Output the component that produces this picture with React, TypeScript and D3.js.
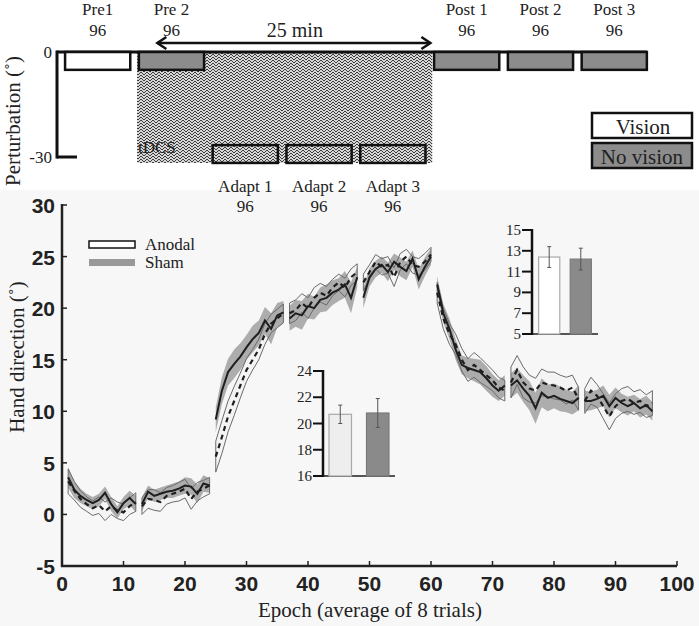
import React from 'react';
import * as d3 from 'd3';

// ---------- Data ----------
const blockNames = ['Pre1', 'Pre 2', 'Adapt 1', 'Adapt 2', 'Adapt 3', 'Post 1', 'Post 2', 'Post 3'];
const blockTrials = [96, 96, 96, 96, 96, 96, 96, 96];
const blockVision = [true, false, false, false, false, false, false, false];
const blockPerturbation = [0, 0, -30, -30, -30, 0, 0, 0];
const epochsPerBlock = 12;
const tdcsEpochs = [12.2, 60.2];
const arrowEpochs = [15.5, 59.9];
const durationLabel = '25 min';

const shamMean = [
  3.6, 2.4, 1.8, 1.4, 1.1, 1.4, 2.1, 1.0, 0.2, 1.1, 1.6, 1.0,
  1.0, 2.2, 1.8, 2.0, 2.2, 2.3, 2.5, 2.8, 2.7, 2.0, 3.0, 2.8,
  9.2, 12.0, 13.8, 14.6, 15.3, 16.2, 17.0, 17.6, 18.8, 18.0, 19.3, 19.6,
  19.0, 19.5, 19.3, 20.2, 20.0, 20.8, 21.0, 21.5, 21.8, 22.3, 21.0, 23.0,
  21.0, 23.0, 23.8, 24.2, 23.5, 24.5, 24.0, 23.6, 24.8, 22.8, 24.0, 25.0,
  22.3, 19.5, 18.0, 16.0, 14.5, 14.2, 14.0, 13.8, 13.2, 12.5, 12.0, 12.5,
  12.5, 13.0, 12.2, 11.5, 10.3, 11.8, 11.3, 11.5, 11.2, 11.0, 10.8, 11.3,
  11.0, 11.0, 11.2, 11.5, 10.5, 11.3, 10.8, 10.5, 10.8, 10.3, 10.6, 10.0,
];
const shamSE = [
  1.0, 0.8, 0.7, 0.6, 0.6, 0.6, 0.6, 0.7, 0.6, 0.6, 0.7, 0.8,
  0.7, 0.6, 0.6, 0.6, 0.6, 0.7, 0.7, 0.8, 0.8, 0.9, 0.8, 0.7,
  1.2, 1.3, 1.3, 1.4, 1.3, 1.2, 1.3, 1.2, 1.3, 1.5, 1.2, 1.1,
  1.2, 1.3, 1.4, 1.2, 1.1, 1.2, 1.3, 1.2, 1.1, 1.3, 1.5, 1.0,
  1.0, 0.9, 0.8, 0.8, 0.9, 0.8, 0.9, 0.9, 0.8, 1.0, 0.9, 0.8,
  0.8, 0.9, 1.0, 1.0, 0.9, 1.0, 1.1, 1.2, 1.2, 1.1, 1.0, 1.0,
  1.2, 1.2, 1.3, 1.4, 1.5, 1.4, 1.3, 1.2, 1.2, 1.1, 1.1, 1.2,
  1.0, 0.9, 0.9, 1.0, 1.1, 1.0, 0.9, 0.9, 0.8, 0.9, 0.9, 0.9,
];
const anodalMean = [
  3.2, 2.3, 1.5, 1.0, 0.6, 0.9, 0.3, 0.8, 0.4, 0.2, 0.8, 1.2,
  0.8, 1.5, 1.4, 1.2, 1.8, 2.0, 2.2, 2.5, 1.5, 2.2, 2.5, 2.8,
  5.6, 7.5, 9.5, 11.0, 12.5, 14.0, 15.0, 16.0, 17.5, 18.5, 19.0, 19.5,
  19.5, 19.8, 20.5, 20.0, 21.0, 21.5, 21.2, 22.0, 22.5, 22.0, 23.0, 23.5,
  22.5, 23.5, 24.5, 24.0, 24.2, 23.0, 24.5, 25.0, 24.2, 24.0, 24.5, 25.2,
  21.5, 19.0, 17.5, 16.5, 15.0, 14.0, 14.5, 14.0, 13.5, 13.0, 12.3, 12.0,
  12.8, 14.0, 12.8, 12.2, 12.0, 12.8, 12.6, 12.5, 12.3, 12.0, 12.3, 11.2,
  11.0, 12.0, 11.5, 10.5, 9.5, 10.5, 11.0, 11.2, 10.8, 11.0, 10.5, 10.8,
];
const anodalSE = [
  1.2, 0.9, 0.8, 0.7, 0.7, 0.8, 0.9, 0.8, 0.8, 0.8, 0.8, 0.9,
  0.8, 0.9, 1.0, 0.9, 0.8, 0.8, 0.9, 0.9, 1.0, 0.9, 0.8, 0.8,
  1.5, 1.6, 1.5, 1.4, 1.2, 1.1, 1.0, 1.0, 1.0, 0.9, 0.9, 0.9,
  1.0, 1.0, 0.9, 1.0, 1.0, 0.9, 0.9, 0.8, 0.8, 0.9, 0.8, 0.8,
  0.8, 0.7, 0.7, 0.8, 0.8, 0.9, 0.8, 0.7, 0.8, 0.8, 0.8, 0.7,
  1.0, 1.0, 1.0, 1.0, 1.1, 1.1, 1.2, 1.2, 1.1, 1.0, 1.0, 1.0,
  1.5, 1.4, 1.5, 1.3, 1.2, 1.3, 1.2, 1.3, 1.2, 1.3, 1.2, 1.1,
  1.2, 1.3, 1.1, 1.2, 1.3, 1.2, 1.2, 1.2, 1.1, 1.1, 1.1, 1.2,
];

const xTicks = [0, 10, 20, 30, 40, 50, 60, 70, 80, 90, 100];
const yTicks = [-5, 0, 5, 10, 15, 20, 25, 30];
const perturbTicks = [0, -30];

const groups = ['Anodal', 'Sham'];
const adaptBarMean = [20.7, 20.8];
const adaptBarSE = [0.7, 1.1];
const adaptTicks = [16, 18, 20, 22, 24];
const postBarMean = [12.4, 12.2];
const postBarSE = [1.0, 1.05];
const postTicks = [5, 7, 9, 11, 13, 15];

// ---------- Chart ----------
const SERIF = '"Liberation Serif", "Times New Roman", serif';
const SANS = '"Liberation Sans", Arial, sans-serif';

export default function App() {
  const xs = d3.scaleLinear().domain([0, 100]).range([62, 677]);
  const ys = d3.scaleLinear().domain([-5, 30]).range([566, 205]);
  const yp = d3.scaleLinear().domain([-30, 0]).range([157, 52]);

  const blocks = blockNames.map((name, b) => {
    const pts = d3.range(epochsPerBlock).map((k) => {
      const i = b * epochsPerBlock + k;
      return { e: i + 1, sm: shamMean[i], ss: shamSE[i], am: anodalMean[i], as: anodalSE[i] };
    });
    return { name, pts };
  });

  const shamArea = d3.area<any>().x((d) => xs(d.e)).y0((d) => ys(d.sm - d.ss)).y1((d) => ys(d.sm + d.ss));
  const anodalArea = d3.area<any>().x((d) => xs(d.e)).y0((d) => ys(d.am - d.as)).y1((d) => ys(d.am + d.as));
  const shamLine = d3.line<any>().x((d) => xs(d.e)).y((d) => ys(d.sm));
  const anodalLine = d3.line<any>().x((d) => xs(d.e)).y((d) => ys(d.am));

  // insets
  const in1y = d3.scaleLinear().domain([16, 24]).range([476, 371]);
  const in1x = d3.scaleBand<string>().domain(groups).range([323, 395]).paddingInner(0.4).paddingOuter(0.16);
  const in2y = d3.scaleLinear().domain([5, 15]).range([334, 230]);
  const in2x = d3.scaleBand<string>().domain(groups).range([532, 598]).paddingInner(0.33).paddingOuter(0.21);

  const boxX0 = (b: number) => xs(b * epochsPerBlock + 0.5);
  const boxX1 = (b: number) => xs(b * epochsPerBlock + 11.1);
  const boxY = (p: number) => (p === 0 ? [yp(0), yp(-5.1)] : [yp(p + 3.4), yp(p - 1.7)]);

  const inset = (
    y: d3.ScaleLinear<number, number>,
    x: d3.ScaleBand<string>,
    ticks: number[],
    means: number[],
    ses: number[],
    fills: string[],
    strokes: string[],
    axisX: number,
    key: string
  ) => {
    const [y0, y1] = y.range();
    const [xr0, xr1] = x.range();
    return (
      <g key={key}>
        <line x1={xr0} x2={xr1} y1={y0} y2={y0} stroke="#555" strokeWidth={2} />
        {groups.map((g, i) => (
          <g key={g}>
            <rect x={x(g)} y={y(means[i])} width={x.bandwidth()} height={y0 - y(means[i])} fill={fills[i]} stroke={strokes[i]} strokeWidth={1.2} />
            <line x1={x(g)! + x.bandwidth() / 2} x2={x(g)! + x.bandwidth() / 2} y1={y(means[i] - ses[i])} y2={y(means[i] + ses[i])} stroke="#555" strokeWidth={1} />
            <line x1={x(g)! + x.bandwidth() / 2 - 2} x2={x(g)! + x.bandwidth() / 2 + 2} y1={y(means[i] + ses[i])} y2={y(means[i] + ses[i])} stroke="#555" strokeWidth={1} />
            <line x1={x(g)! + x.bandwidth() / 2 - 2} x2={x(g)! + x.bandwidth() / 2 + 2} y1={y(means[i] - ses[i])} y2={y(means[i] - ses[i])} stroke="#555" strokeWidth={1} />
          </g>
        ))}
        <line x1={axisX} x2={axisX} y1={y0 + 1} y2={y1 - 1} stroke="#111" strokeWidth={2.5} />
        {ticks.map((t) => (
          <g key={t}>
            <line x1={axisX - 10} x2={axisX} y1={y(t)} y2={y(t)} stroke="#111" strokeWidth={2} />
            <text x={axisX - 11} y={y(t) + 5} textAnchor="end" fontFamily={SERIF} fontSize={15} fill="#222">{t}</text>
          </g>
        ))}
      </g>
    );
  };

  return (
    <svg width={699} height={626} style={{ position: 'absolute', left: 0, top: 0, background: '#fff' }}>
      <defs>
        <pattern id="tdcs" patternUnits="userSpaceOnUse" width={6} height={6}>
          <rect width={6} height={6} fill="#d6d6d6" />
          <path d="M0,3 L3,0 L6,3 M0,6 L3,3 L6,6" stroke="#3a3a3a" strokeWidth={1} fill="none" />
        </pattern>
      </defs>
      <rect x={0} y={190} width={699} height={436} fill="#f7f7f7" />

      {/* ---------- Top panel ---------- */}
      <text transform="translate(20,121) rotate(-90)" textAnchor="middle" fontFamily={SERIF} fontSize={21} fill="#222">Perturbation (˚)</text>
      <rect x={xs(tdcsEpochs[0])} y={yp(0)} width={xs(tdcsEpochs[1]) - xs(tdcsEpochs[0])} height={yp(-31.7) - yp(0)} fill="url(#tdcs)" />
      <text x={xs(tdcsEpochs[0]) + 1} y={153} fontFamily={SERIF} fontSize={17} fill="#222">tDCS</text>
      <line x1={57} x2={boxX1(7)} y1={yp(0)} y2={yp(0)} stroke="#111" strokeWidth={3} />
      <line x1={57} x2={57} y1={yp(0) - 1.5} y2={yp(-30) + 1.5} stroke="#111" strokeWidth={3} />
      <line x1={57} x2={77} y1={yp(-30)} y2={yp(-30)} stroke="#111" strokeWidth={3} />
      {perturbTicks.map((t) => (
        <text key={t} x={52} y={yp(t) + 6} textAnchor="end" fontFamily={SERIF} fontSize={17} fill="#222">{t}</text>
      ))}
      {blockNames.map((n, b) => {
        const [y0, y1] = boxY(blockPerturbation[b]);
        const fill = blockPerturbation[b] !== 0 ? 'none' : blockVision[b] ? '#fff' : '#8c8c8c';
        const cx = (boxX0(b) + boxX1(b)) / 2;
        const top = blockPerturbation[b] === 0;
        return (
          <g key={n}>
            <rect x={boxX0(b)} y={y0} width={boxX1(b) - boxX0(b)} height={y1 - y0} fill={fill} stroke="#111" strokeWidth={2.5} />
            <text x={cx} y={top ? 15 : 192} textAnchor="middle" fontFamily={SERIF} fontSize={17} fill="#222">{n}</text>
            <text x={cx} y={top ? 36 : 212} textAnchor="middle" fontFamily={SERIF} fontSize={17} fill="#222">{blockTrials[b]}</text>
          </g>
        );
      })}
      {/* duration arrow */}
      <line x1={xs(arrowEpochs[0])} x2={xs(arrowEpochs[1])} y1={43} y2={43} stroke="#111" strokeWidth={2.5} />
      <path d={`M${xs(arrowEpochs[0]) + 9},37 L${xs(arrowEpochs[0])},43 L${xs(arrowEpochs[0]) + 9},49`} stroke="#111" strokeWidth={2.5} fill="none" />
      <path d={`M${xs(arrowEpochs[1]) - 9},37 L${xs(arrowEpochs[1])},43 L${xs(arrowEpochs[1]) - 9},49`} stroke="#111" strokeWidth={2.5} fill="none" />
      <text x={(xs(arrowEpochs[0]) + xs(arrowEpochs[1])) / 2 + 1} y={37} textAnchor="middle" fontFamily={SERIF} fontSize={20} fill="#222">{durationLabel}</text>
      {/* vision legend */}
      <rect x={592} y={113} width={100} height={25} fill="#fff" stroke="#111" strokeWidth={2.5} />
      <text x={643} y={134} textAnchor="middle" fontFamily={SERIF} fontSize={21} fill="#222">Vision</text>
      <rect x={592} y={143} width={100} height={25} fill="#8c8c8c" stroke="#111" strokeWidth={2.5} />
      <text x={642} y={164} textAnchor="middle" fontFamily={SERIF} fontSize={21} fill="#222">No vision</text>

      {/* ---------- Main panel ---------- */}
      <text transform="translate(24,357) rotate(-90)" textAnchor="middle" fontFamily={SERIF} fontSize={21} fill="#222">Hand direction (˚)</text>
      <text x={370} y={617} textAnchor="middle" fontFamily={SERIF} fontSize={21} fill="#222">Epoch (average of 8 trials)</text>

      {blocks.map((bl) => (
        <g key={'a' + bl.name}>
          <path d={anodalArea(bl.pts)!} fill="#f4f4f4" />
        </g>
      ))}
      {blocks.map((bl) => (
        <g key={'s' + bl.name}>
          <path d={shamArea(bl.pts)!} fill="#9a9a9a" fillOpacity={0.8} />
        </g>
      ))}
      {blocks.map((bl) => (
        <g key={'l' + bl.name}>
          <path d={anodalArea(bl.pts)!} fill="none" stroke="#6a6a6a" strokeWidth={1} />
          <path d={shamLine(bl.pts)!} fill="none" stroke="#1e1e1e" strokeWidth={2} />
          <path d={anodalLine(bl.pts)!} fill="none" stroke="#1e1e1e" strokeWidth={2.2} strokeDasharray="5,4" />
        </g>
      ))}

      {/* legend */}
      <rect x={89} y={241} width={46} height={7} fill="#fff" stroke="#111" strokeWidth={1.5} />
      <rect x={89} y={259} width={46} height={7} fill="#999" />
      <text x={145} y={250} fontFamily={SERIF} fontSize={17} fill="#222">Anodal</text>
      <text x={145} y={268} fontFamily={SERIF} fontSize={17} fill="#222">Sham</text>

      {/* axes */}
      <line x1={62} x2={62} y1={204} y2={567} stroke="#222" strokeWidth={2.5} />
      <line x1={61} x2={677} y1={566} y2={566} stroke="#222" strokeWidth={2.5} />
      {xTicks.map((t) => (
        <g key={'x' + t}>
          <line x1={xs(t)} x2={xs(t)} y1={566} y2={561} stroke="#222" strokeWidth={1.5} />
          <text x={xs(t)} y={591} textAnchor="middle" fontFamily={SANS} fontWeight="bold" fontSize={21} fill="#222">{t}</text>
        </g>
      ))}
      {yTicks.map((t) => (
        <g key={'y' + t}>
          <line x1={62} x2={67} y1={ys(t)} y2={ys(t)} stroke="#222" strokeWidth={1.5} />
          <text x={55} y={ys(t) + 8} textAnchor="end" fontFamily={SANS} fontWeight="bold" fontSize={21} fill="#222">{t}</text>
        </g>
      ))}

      {/* insets */}
      {inset(in1y, in1x, adaptTicks, adaptBarMean, adaptBarSE, ['#eeeeee', '#8a8a8a'], ['#aaaaaa', '#7a7a7a'], 323, 'in1')}
      {inset(in2y, in2x, postTicks, postBarMean, postBarSE, ['#ffffff', '#8a8a8a'], ['#aaaaaa', '#7a7a7a'], 532, 'in2')}
    </svg>
  );
}
